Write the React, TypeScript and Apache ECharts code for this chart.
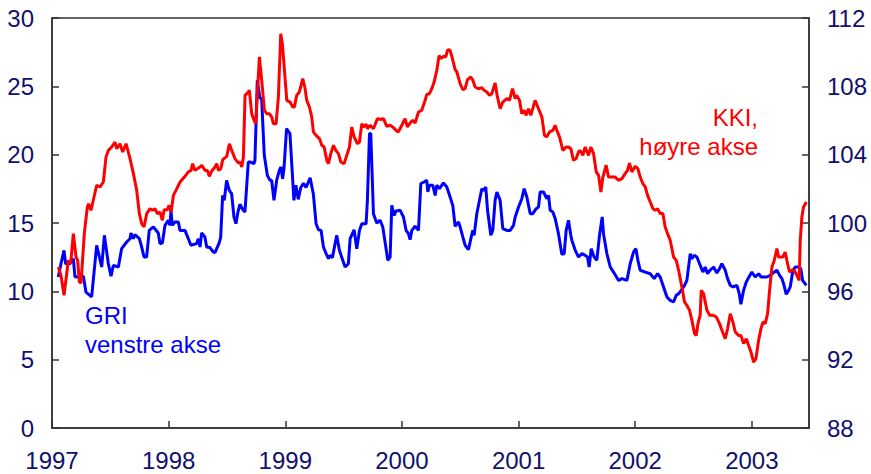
import React, { useEffect, useRef } from "react";
import * as echarts from "echarts";

// GRI (left axis) – [decimal year, value]
const gri: [number, number][] = [
  [1997.054, 11.05], [1997.077, 12.02], [1997.103, 13.0], [1997.117, 12.02], [1997.154, 12.02],
  [1997.183, 12.39], [1997.197, 11.05], [1997.269, 11.1], [1997.291, 9.95], [1997.34, 9.59],
  [1997.383, 13.37], [1997.426, 11.78], [1997.449, 14.1], [1997.483, 12.02], [1997.506, 11.1],
  [1997.526, 11.9], [1997.569, 11.78], [1997.597, 13.12], [1997.64, 13.61], [1997.669, 13.85],
  [1997.677, 14.27], [1997.697, 13.85], [1997.711, 14.15], [1997.749, 13.85], [1997.769, 13.24],
  [1997.789, 12.51], [1997.811, 12.51], [1997.834, 14.46], [1997.869, 14.71], [1997.911, 14.27],
  [1997.926, 13.49], [1997.946, 13.54], [1997.969, 14.83], [1997.997, 15.2], [1998.011, 14.83],
  [1998.02, 15.93], [1998.031, 14.83], [1998.054, 15.07], [1998.083, 15.07], [1998.097, 14.46],
  [1998.14, 14.46], [1998.169, 13.85], [1998.191, 13.37], [1998.24, 13.49], [1998.254, 13.85],
  [1998.269, 13.24], [1998.283, 14.27], [1998.311, 13.98], [1998.326, 13.24], [1998.354, 13.2],
  [1998.383, 12.88], [1998.397, 12.83], [1998.431, 13.49], [1998.446, 13.93], [1998.463, 17.02],
  [1998.477, 16.66], [1998.497, 18.12], [1998.52, 17.39], [1998.54, 17.15], [1998.56, 15.44],
  [1998.577, 14.95], [1998.594, 15.8], [1998.611, 16.37], [1998.64, 15.93], [1998.654, 15.8],
  [1998.683, 19.46], [1998.703, 19.46], [1998.731, 19.34], [1998.74, 19.59], [1998.76, 25.44],
  [1998.783, 24.1], [1998.797, 24.15], [1998.82, 19.95], [1998.846, 18.49], [1998.869, 18.12],
  [1998.883, 18.12], [1998.903, 16.66], [1998.926, 18.12], [1998.949, 18.85], [1998.963, 19.1],
  [1998.977, 18.24], [1998.989, 18.98], [1999.011, 21.9], [1999.04, 21.54], [1999.074, 16.66],
  [1999.091, 17.76], [1999.111, 16.73], [1999.133, 17.6], [1999.156, 17.9], [1999.178, 17.6],
  [1999.213, 18.3], [1999.241, 17.1], [1999.264, 14.95], [1999.284, 14.5], [1999.307, 14.46],
  [1999.327, 13.24], [1999.35, 12.76], [1999.37, 12.39], [1999.384, 12.63], [1999.404, 12.46],
  [1999.427, 13.49], [1999.441, 14.1], [1999.464, 13.0], [1999.484, 12.5], [1999.513, 11.78],
  [1999.541, 12.02], [1999.556, 13.85], [1999.59, 14.5], [1999.613, 13.12], [1999.636, 14.46],
  [1999.656, 14.95], [1999.693, 14.95], [1999.704, 16.66], [1999.722, 21.54], [1999.733, 21.54],
  [1999.756, 15.68], [1999.784, 15.0], [1999.813, 15.2], [1999.836, 14.71], [1999.864, 13.12],
  [1999.879, 12.27], [1999.899, 12.51], [1999.913, 16.29], [1999.933, 15.56], [1999.95, 15.88],
  [1999.985, 15.93], [2000.013, 15.44], [2000.036, 14.46], [2000.056, 14.22], [2000.07, 13.78],
  [2000.085, 14.46], [2000.113, 14.76], [2000.142, 14.46], [2000.162, 17.88], [2000.19, 18.0],
  [2000.213, 18.12], [2000.222, 17.27], [2000.236, 17.76], [2000.265, 17.76], [2000.285, 17.02],
  [2000.299, 17.76], [2000.322, 17.51], [2000.356, 17.93], [2000.385, 17.63], [2000.413, 16.9],
  [2000.436, 16.29], [2000.456, 14.76], [2000.485, 15.07], [2000.499, 14.71], [2000.522, 13.98],
  [2000.542, 13.37], [2000.571, 13.05], [2000.591, 13.85], [2000.608, 14.46], [2000.619, 14.1],
  [2000.642, 15.68], [2000.665, 16.66], [2000.685, 17.51], [2000.699, 17.39], [2000.719, 17.63],
  [2000.734, 15.93], [2000.762, 14.1], [2000.779, 14.46], [2000.799, 16.66], [2000.814, 17.27],
  [2000.842, 16.66], [2000.865, 14.59], [2000.899, 14.46], [2000.928, 14.46], [2000.957, 14.83],
  [2000.971, 15.44], [2001.0, 16.17], [2001.028, 16.78], [2001.048, 17.51], [2001.071, 16.9],
  [2001.1, 15.68], [2001.122, 15.68], [2001.151, 16.05], [2001.171, 16.17], [2001.185, 17.27],
  [2001.214, 17.27], [2001.242, 16.78], [2001.257, 17.02], [2001.271, 15.93], [2001.294, 15.8],
  [2001.314, 15.32], [2001.342, 14.22], [2001.371, 12.71], [2001.391, 12.76], [2001.408, 14.46],
  [2001.428, 15.2], [2001.448, 14.1], [2001.457, 13.73], [2001.486, 13.0], [2001.514, 12.51],
  [2001.543, 12.76], [2001.571, 12.63], [2001.591, 12.51], [2001.605, 11.78], [2001.623, 13.12],
  [2001.648, 12.51], [2001.671, 12.27], [2001.694, 14.1], [2001.717, 15.44], [2001.728, 14.22],
  [2001.757, 12.76], [2001.786, 11.78], [2001.814, 11.41], [2001.857, 10.8], [2001.886, 10.93],
  [2001.929, 10.8], [2001.957, 12.02], [2001.986, 12.88], [2002.006, 13.12], [2002.023, 12.27],
  [2002.043, 11.54], [2002.086, 11.41], [2002.129, 11.29], [2002.163, 10.93], [2002.192, 11.29],
  [2002.214, 11.05], [2002.243, 10.32], [2002.272, 9.59], [2002.3, 9.34], [2002.329, 9.22],
  [2002.352, 9.71], [2002.372, 9.83], [2002.395, 10.07], [2002.423, 10.44], [2002.443, 10.8],
  [2002.472, 12.76], [2002.486, 12.39], [2002.506, 12.63], [2002.529, 12.51], [2002.552, 12.02],
  [2002.58, 11.41], [2002.6, 11.78], [2002.62, 11.29], [2002.64, 11.54], [2002.672, 11.78],
  [2002.7, 11.34], [2002.723, 11.66], [2002.743, 12.02], [2002.772, 11.54], [2002.792, 10.93],
  [2002.815, 10.44], [2002.84, 10.32], [2002.872, 10.44], [2002.892, 9.83], [2002.906, 9.05],
  [2002.929, 10.07], [2002.952, 10.68], [2002.972, 11.0], [2003.0, 11.41], [2003.029, 11.05],
  [2003.058, 11.29], [2003.078, 11.05], [2003.101, 11.05], [2003.129, 11.05], [2003.158, 11.17],
  [2003.192, 11.41], [2003.215, 11.54], [2003.238, 11.17], [2003.258, 10.93], [2003.272, 10.56],
  [2003.295, 9.78], [2003.315, 10.07], [2003.329, 10.32], [2003.352, 11.54], [2003.372, 11.78],
  [2003.4, 11.78], [2003.42, 11.66], [2003.435, 10.8], [2003.467, 10.44],
];

// KKI (right axis) – [decimal year, value]
const kki: [number, number][] = [
  [1997.054, 97.42], [1997.077, 96.94], [1997.103, 95.77], [1997.126, 97.03], [1997.14, 97.81],
  [1997.16, 97.62], [1997.183, 99.38], [1997.206, 98.01], [1997.22, 97.81], [1997.234, 96.55],
  [1997.249, 96.49], [1997.277, 99.38], [1997.303, 100.94], [1997.314, 101.13], [1997.334, 100.74],
  [1997.354, 101.33], [1997.383, 102.2], [1997.412, 102.11], [1997.44, 102.4], [1997.463, 103.86],
  [1997.483, 104.25], [1997.512, 104.45], [1997.54, 104.74], [1997.555, 104.35], [1997.583, 104.64],
  [1997.606, 104.16], [1997.635, 104.64], [1997.669, 103.77], [1997.698, 102.89], [1997.726, 101.91],
  [1997.749, 100.55], [1997.769, 99.96], [1997.789, 99.77], [1997.812, 100.55], [1997.84, 100.84],
  [1997.863, 100.74], [1997.883, 100.84], [1997.903, 100.55], [1997.926, 100.64], [1997.946, 100.16],
  [1997.961, 100.78], [1997.989, 100.78], [1998.003, 101.03], [1998.021, 100.64], [1998.041, 101.62],
  [1998.063, 101.91], [1998.098, 102.4], [1998.135, 102.69], [1998.169, 102.99], [1998.192, 103.08],
  [1998.206, 103.47], [1998.226, 103.08], [1998.269, 103.28], [1998.284, 103.38], [1998.312, 103.08],
  [1998.332, 103.08], [1998.349, 102.73], [1998.369, 103.04], [1998.398, 103.28], [1998.412, 103.47],
  [1998.427, 103.08], [1998.447, 103.18], [1998.464, 103.71], [1998.498, 103.9], [1998.521, 104.64],
  [1998.541, 104.25], [1998.569, 103.77], [1998.598, 103.51], [1998.612, 103.57], [1998.627, 103.28],
  [1998.641, 103.86], [1998.655, 107.47], [1998.684, 107.67], [1998.692, 107.77], [1998.712, 106.4],
  [1998.732, 106.01], [1998.747, 105.81], [1998.778, 109.72], [1998.798, 108.35], [1998.821, 106.6],
  [1998.841, 106.4], [1998.864, 106.4], [1998.884, 106.2], [1998.898, 105.81], [1998.921, 105.81],
  [1998.941, 107.38], [1998.961, 111.08], [1998.975, 110.5], [1999.013, 107.18], [1999.041, 107.08],
  [1999.064, 106.79], [1999.078, 106.79], [1999.098, 107.47], [1999.121, 107.67], [1999.15, 108.45],
  [1999.17, 107.86], [1999.184, 107.18], [1999.207, 106.79], [1999.227, 106.2], [1999.241, 105.33],
  [1999.264, 105.13], [1999.293, 104.94], [1999.313, 104.55], [1999.333, 104.45], [1999.356, 103.67],
  [1999.37, 103.47], [1999.39, 104.06], [1999.413, 104.55], [1999.433, 104.25], [1999.456, 104.06],
  [1999.476, 103.57], [1999.504, 103.47], [1999.527, 103.96], [1999.55, 104.45], [1999.57, 105.62],
  [1999.59, 105.04], [1999.619, 104.64], [1999.636, 104.74], [1999.656, 105.81], [1999.67, 105.62],
  [1999.693, 105.78], [1999.704, 105.52], [1999.727, 105.72], [1999.756, 105.52], [1999.79, 106.11],
  [1999.813, 106.07], [1999.842, 106.11], [1999.87, 105.66], [1999.899, 105.72], [1999.922, 105.62],
  [1999.95, 105.42], [1999.97, 105.33], [1999.999, 105.72], [2000.027, 106.11], [2000.047, 105.62],
  [2000.076, 105.91], [2000.093, 106.01], [2000.113, 105.85], [2000.142, 106.5], [2000.17, 106.6],
  [2000.199, 107.18], [2000.213, 107.53], [2000.236, 107.57], [2000.256, 107.86], [2000.276, 108.25],
  [2000.299, 108.94], [2000.319, 109.81], [2000.333, 109.62], [2000.356, 109.76], [2000.376, 109.72],
  [2000.393, 110.15], [2000.413, 110.11], [2000.433, 109.62], [2000.456, 108.98], [2000.471, 108.84],
  [2000.499, 108.16], [2000.522, 107.8], [2000.542, 107.86], [2000.562, 108.39], [2000.591, 108.55],
  [2000.608, 108.35], [2000.628, 107.96], [2000.656, 107.86], [2000.685, 107.92], [2000.705, 107.77],
  [2000.728, 107.67], [2000.751, 107.47], [2000.771, 107.57], [2000.799, 108.2], [2000.819, 107.38],
  [2000.842, 106.69], [2000.865, 107.08], [2000.899, 107.28], [2000.922, 107.18], [2000.948, 107.86],
  [2000.971, 107.28], [2000.985, 107.47], [2001.008, 107.18], [2001.028, 106.4], [2001.048, 106.6],
  [2001.065, 106.3], [2001.085, 106.69], [2001.105, 106.3], [2001.142, 107.18], [2001.171, 106.69],
  [2001.2, 106.2], [2001.222, 105.13], [2001.242, 105.04], [2001.265, 105.33], [2001.294, 105.42],
  [2001.314, 105.72], [2001.328, 105.42], [2001.351, 105.04], [2001.38, 104.25], [2001.408, 104.45],
  [2001.428, 104.45], [2001.448, 104.35], [2001.471, 103.67], [2001.494, 103.77], [2001.514, 104.16],
  [2001.528, 104.25], [2001.551, 103.96], [2001.571, 104.45], [2001.6, 103.96], [2001.62, 104.45],
  [2001.643, 104.06], [2001.666, 102.99], [2001.686, 102.79], [2001.706, 101.81], [2001.723, 102.69],
  [2001.751, 103.38], [2001.771, 102.69], [2001.8, 102.69], [2001.828, 102.69], [2001.857, 102.5],
  [2001.886, 102.6], [2001.914, 102.89], [2001.934, 103.08], [2001.951, 103.51], [2001.971, 102.99],
  [2002.0, 103.32], [2002.023, 103.18], [2002.043, 102.69], [2002.066, 102.3], [2002.086, 102.11],
  [2002.106, 101.62], [2002.129, 101.23], [2002.152, 100.84], [2002.172, 100.74], [2002.192, 100.84],
  [2002.214, 100.55], [2002.237, 100.55], [2002.257, 99.77], [2002.277, 99.38], [2002.3, 98.99],
  [2002.329, 98.01], [2002.352, 97.81], [2002.372, 97.23], [2002.4, 96.25], [2002.423, 95.38],
  [2002.443, 95.18], [2002.466, 94.89], [2002.486, 94.3], [2002.509, 93.52], [2002.523, 93.42],
  [2002.538, 94.11], [2002.557, 94.6], [2002.566, 96.06], [2002.586, 95.87], [2002.6, 95.38],
  [2002.615, 94.89], [2002.638, 94.6], [2002.666, 94.6], [2002.695, 94.5], [2002.723, 94.11],
  [2002.749, 93.62], [2002.772, 93.23], [2002.792, 93.81], [2002.815, 94.69], [2002.838, 94.2],
  [2002.858, 93.62], [2002.886, 93.42], [2002.906, 93.42], [2002.929, 92.94], [2002.952, 93.23],
  [2002.972, 92.84], [2002.992, 92.45], [2003.015, 91.86], [2003.035, 92.06], [2003.058, 93.13],
  [2003.078, 93.81], [2003.095, 94.2], [2003.115, 94.11], [2003.135, 94.69], [2003.152, 96.06],
  [2003.172, 97.42], [2003.192, 97.81], [2003.215, 98.5], [2003.229, 98.01], [2003.243, 98.01],
  [2003.266, 98.01], [2003.286, 98.3], [2003.306, 97.62], [2003.323, 97.13], [2003.343, 97.23],
  [2003.363, 97.23], [2003.386, 96.94], [2003.406, 96.64], [2003.415, 98.99], [2003.429, 100.35],
  [2003.443, 100.94], [2003.467, 101.23],
];

const xMin = 1997;
const xMax = 2003.49;
const leftMin = 0;
const leftMax = 30;
const leftStep = 5;
const rightMin = 88;
const rightMax = 112;
const rightStep = 4;

const griLabel = ["GRI", "venstre akse"];
const kkiLabel = ["KKI,", "høyre akse"];

const FONT = "'Liberation Sans', Arial, sans-serif";
const NAVY = "#10106e";
const AXIS = "#333333";

export default function App() {
  const ref = useRef<HTMLDivElement>(null);
  useEffect(() => {
    if (!ref.current) return;
    const chart = echarts.init(ref.current, undefined, { renderer: "svg" });
    const axisCommon = {
      axisLine: { show: true, lineStyle: { color: AXIS, width: 1.5 } },
      axisTick: { show: true, inside: true, length: 7, lineStyle: { color: AXIS, width: 1.5 } },
      splitLine: { show: false },
    };
    chart.setOption({
      animation: false,
      grid: {
        left: 52, right: 62, top: 18, bottom: 46,
        show: true, borderColor: AXIS, borderWidth: 1.5, backgroundColor: "transparent",
      },
      xAxis: {
        type: "value", min: xMin, max: xMax, interval: 1,
        ...axisCommon,
        axisLabel: {
          color: NAVY, fontSize: 24, fontFamily: FONT, margin: 20, showMaxLabel: false,
          formatter: (v: number) => (Number.isInteger(v) ? String(v) : ""),
        },
      },
      yAxis: [
        {
          type: "value", min: leftMin, max: leftMax, interval: leftStep, position: "left",
          ...axisCommon,
          axisLabel: { color: NAVY, fontSize: 24, fontFamily: FONT, margin: 18 },
        },
        {
          type: "value", min: rightMin, max: rightMax, interval: rightStep, position: "right",
          ...axisCommon,
          axisLabel: { color: NAVY, fontSize: 24, fontFamily: FONT, margin: 18 },
        },
      ],
      series: [
        {
          name: "GRI", type: "line", yAxisIndex: 0, data: gri, showSymbol: false,
          lineStyle: { color: "#0000ff", width: 3 }, itemStyle: { color: "#0000ff" },
        },
        {
          name: "KKI", type: "line", yAxisIndex: 1, data: kki, showSymbol: false,
          lineStyle: { color: "#ff0000", width: 3 }, itemStyle: { color: "#ff0000" },
        },
      ],
      graphic: [
        { type: "text", left: 85, top: 303, style: { text: griLabel[0], fill: "#0000ff", font: `24px ${FONT}` } },
        { type: "text", left: 85, top: 332, style: { text: griLabel[1], fill: "#0000ff", font: `24px ${FONT}` } },
        { type: "text", right: 871 - 758, top: 105, style: { text: kkiLabel[0], fill: "#ff0000", font: `24px ${FONT}` } },
        { type: "text", right: 871 - 758, top: 134, style: { text: kkiLabel[1], fill: "#ff0000", font: `24px ${FONT}` } },
      ],
    });
    return () => chart.dispose();
  }, []);
  return (
    <div
      ref={ref}
      style={{ position: "fixed", left: 0, top: 0, width: 871, height: 474, background: "#fff" }}
    />
  );
}
